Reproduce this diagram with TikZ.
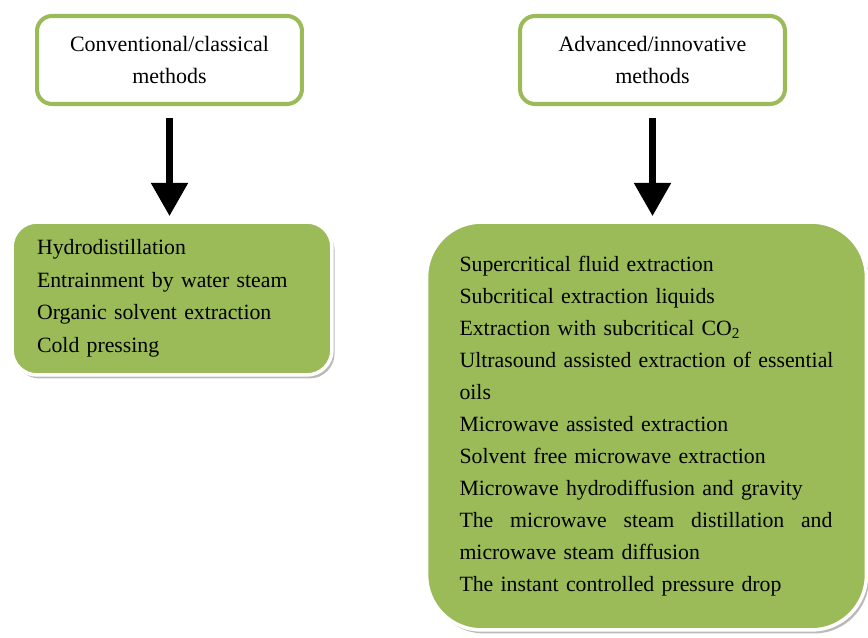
\documentclass[tikz,border=0pt]{standalone}
\usepackage{fontspec}
\setmainfont{Liberation Serif}
\definecolor{boxgreen}{HTML}{9BBB59}
\usetikzlibrary{arrows.meta,positioning,shadows}

\begin{document}
\begin{tikzpicture}[x=0.02cm,y=0.02cm,
  headbox/.style={draw=boxgreen,line width=2.3pt,rounded corners=0.3cm,fill=white,
    minimum width=5.3cm,minimum height=1.76cm,align=center,font=\fontsize{12.5}{18}\selectfont},
  listbox/.style={fill=boxgreen,draw=white,line width=2pt,
    drop shadow={shadow xshift=1.5pt,shadow yshift=-2pt,fill=black!45,opacity=.6},
    align=left,font=\fontsize{12.4}{18.2}\selectfont},
  downarrow/.style={line width=4.5pt,-{Triangle[width=20pt,length=19pt]},
    shorten <=0.24cm,shorten >=0.08cm}]
  \useasboundingbox (0,0) rectangle (868,638);
  \node[headbox] (conv) at (169.5,578) {Conventional/classical\\methods};
  \node[headbox] (adv) at (652.5,578) {Advanced/innovative\\methods};
  \node[listbox,text width=5.4cm,inner xsep=0.5cm,minimum height=3.06cm,rounded corners=0.5cm,
    font=\fontsize{12.4}{18.5}\selectfont] (convlist) at (172,339.5)
    {Hydrodistillation\\Entrainment by water steam\\Organic solvent extraction\\Cold pressing};
  \node[listbox,text width=7.48cm,inner xsep=0.66cm,minimum height=8.16cm,rounded corners=1.1cm] (advlist) at (646.5,212)
    {Supercritical fluid extraction\\
     Subcritical extraction liquids\\
     Extraction with subcritical CO\textsubscript{2}\\
     Ultrasound assisted extraction of essential\\
     oils\\
     Microwave assisted extraction\\
     Solvent free microwave extraction\\
     Microwave hydrodiffusion and gravity\\
     \makebox[7.46cm]{The\hfill microwave\hfill steam\hfill distillation\hfill and}\\
     microwave steam diffusion\\
     The instant controlled pressure drop};
  \draw[downarrow] (conv.south) -- (conv.south |- convlist.north);
  \draw[downarrow] (adv.south) -- (adv.south |- advlist.north);
\end{tikzpicture}
\end{document}
